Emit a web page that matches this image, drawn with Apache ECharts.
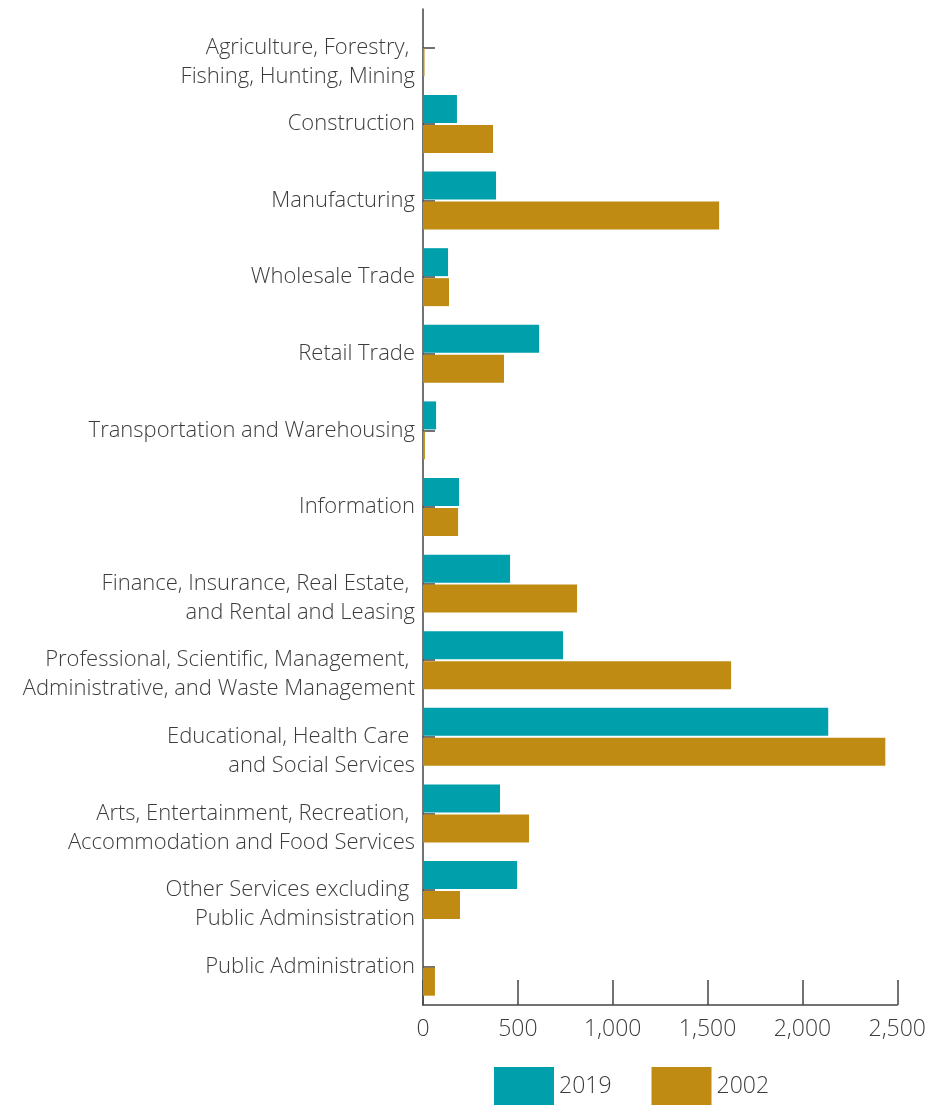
<!DOCTYPE html>
<html>
<head>
<meta charset="utf-8">
<script src="https://cdn.jsdelivr.net/npm/echarts@6/dist/echarts.min.js"></script>
<style>
  html, body { margin: 0; padding: 0; background: #fff; }
  #chart { width: 929px; height: 1106px; }
</style>
</head>
<body>
<div id="chart"></div>
<script>
// industry categories (top to bottom)
var categories = [
  'Agriculture, Forestry, \nFishing, Hunting, Mining',
  'Construction',
  'Manufacturing',
  'Wholesale Trade',
  'Retail Trade',
  'Transportation and Warehousing',
  'Information',
  'Finance, Insurance, Real Estate, \nand Rental and Leasing',
  'Professional, Scientific, Management, \nAdministrative, and Waste Management',
  'Educational, Health Care \nand Social Services',
  'Arts, Entertainment, Recreation, \nAccommodation and Food Services',
  'Other Services excluding \nPublic Adminsistration',
  'Public Administration'
];
var values2019 = [2, 179, 385, 132, 612, 69, 190, 459, 738, 2136, 406, 496, 0];
var values2002 = [8, 369, 1561, 137, 427, 10, 185, 812, 1624, 2437, 559, 195, 63];
var seriesNames = ['2019', '2002'];
var colors = ['#009FAC', '#BF8B13'];

var fontName = 'Open Sans';
var myChart = echarts.init(document.getElementById('chart'));
var option = {
  animation: false,
  textStyle: { fontFamily: fontName, color: '#3c3c3c', fontWeight: 300 },
  grid: { left: 423, right: 31, top: 9, bottom: 101 },
  legend: {
    bottom: -4,
    left: 489,
    itemWidth: 60,
    itemHeight: 38,
    itemGap: 40,
    icon: 'rect',
    textStyle: { fontSize: 23, color: '#3c3c3c', fontFamily: fontName, fontWeight: 300 },
    data: seriesNames
  },
  xAxis: {
    type: 'value',
    min: 0,
    max: 2500,
    interval: 500,
    axisLine: { show: true, lineStyle: { color: '#444', width: 1.5 } },
    axisTick: { show: true, inside: true, length: 25, lineStyle: { color: '#444', width: 1.5 } },
    splitLine: { show: false },
    axisLabel: {
      fontSize: 23,
      fontFamily: fontName,
      fontWeight: 300,
      color: '#3c3c3c',
      margin: 13,
      formatter: function (v) { return v.toLocaleString('en-US'); }
    }
  },
  yAxis: {
    type: 'category',
    inverse: true,
    data: categories,
    axisLine: { show: true, lineStyle: { color: '#444', width: 1.5 } },
    axisTick: { show: true, inside: true, length: 12, alignWithLabel: true, lineStyle: { color: '#444', width: 1.5 } },
    axisLabel: {
      fontSize: 22,
      fontFamily: fontName,
      fontWeight: 300,
      color: '#3c3c3c',
      margin: 8,
      lineHeight: 29,
      align: 'right',
      // first line sits on the tick, the second hangs below it
      formatter: function (v) { return v.indexOf('\n') >= 0 ? '\n' + v : v; }
    }
  },
  series: [
    { name: seriesNames[0], type: 'bar', data: values2019, barWidth: 28, barGap: '7%', itemStyle: { color: colors[0] } },
    { name: seriesNames[1], type: 'bar', data: values2002, barWidth: 28, barGap: '7%', itemStyle: { color: colors[1] } }
  ]
};
myChart.setOption(option);
</script>
</body>
</html>
